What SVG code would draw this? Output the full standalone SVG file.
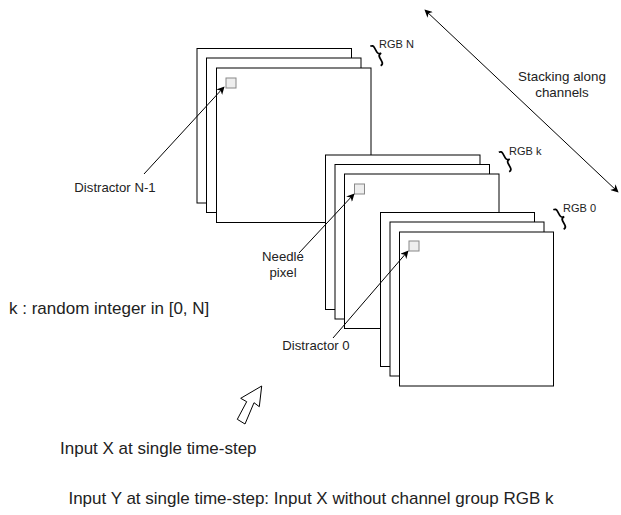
<svg xmlns="http://www.w3.org/2000/svg" width="621" height="515" viewBox="0 0 621 515">
<defs>
<marker id="arr" viewBox="0 0 10 10" refX="9" refY="5" markerWidth="8" markerHeight="8" markerUnits="userSpaceOnUse" orient="auto-start-reverse">
<path d="M0,0 L10,5 L0,10 L3,5 z" fill="#000"/>
</marker>
<path id="brace" d="M0,-11 Q3,-11 3,-8 L3,-3 Q3,0 6.5,0 Q3,0 3,3 L3,8 Q3,11 0,11" fill="none" stroke="#000" stroke-width="1.7"/>
</defs>
<style>
.fr{fill:#fff;stroke:#000;stroke-width:1}
.px{fill:#eee;stroke:#888;stroke-width:1}
.t{font-family:"Liberation Sans",Arial,sans-serif;fill:#222}
.conn{stroke:#000;stroke-width:1;fill:none}
</style>
<rect width="621" height="515" fill="#fff"/>

<g id="stackN">
<rect class="fr" x="197" y="48.5" width="154.5" height="154.5"/>
<rect class="fr" x="206.5" y="58" width="154.5" height="154.5"/>
<rect class="fr" x="216.5" y="68" width="154.5" height="154.5"/>
<rect class="px" x="226" y="78" width="10" height="10"/>
<use href="#brace" transform="translate(375.5,56) rotate(-28)"/>
<text class="t" x="379" y="47.5" font-size="11">RGB N</text>
</g>

<g id="stackK">
<rect class="fr" x="325.5" y="155" width="154.5" height="154.5"/>
<rect class="fr" x="335" y="164.5" width="154.5" height="154.5"/>
<rect class="fr" x="344.5" y="174" width="154.5" height="154.5"/>
<rect class="px" x="354.5" y="184" width="10" height="10"/>
<use href="#brace" transform="translate(504,162) rotate(-28)"/>
<text class="t" x="509" y="155" font-size="11">RGB k</text>
</g>

<g id="stack0">
<rect class="fr" x="380.5" y="212.5" width="154" height="154"/>
<rect class="fr" x="390" y="222" width="154" height="154"/>
<rect class="fr" x="399.5" y="232" width="154" height="154"/>
<rect class="px" x="409" y="241" width="10" height="10"/>
<use href="#brace" transform="translate(558.5,219.5) rotate(-28)"/>
<text class="t" x="563" y="212" font-size="11">RGB 0</text>
</g>

<g id="connectors">
<line class="conn" x1="144" y1="174" x2="224" y2="87" marker-end="url(#arr)"/>
<line class="conn" x1="299" y1="253" x2="354" y2="194" marker-end="url(#arr)"/>
<line class="conn" x1="333" y1="338" x2="408" y2="251" marker-end="url(#arr)"/>
<line class="conn" x1="425" y1="10" x2="618" y2="192" marker-start="url(#arr)" marker-end="url(#arr)"/>
</g>

<g id="labels">
<text class="t" x="115" y="192" font-size="13.2" text-anchor="middle">Distractor N-1</text>
<text class="t" x="283" y="261" font-size="13.2" text-anchor="middle">Needle</text>
<text class="t" x="283" y="277" font-size="13.2" text-anchor="middle">pixel</text>
<text class="t" x="316" y="350" font-size="13.2" text-anchor="middle">Distractor 0</text>
<text class="t" x="562" y="81" font-size="13.4" text-anchor="middle">Stacking along</text>
<text class="t" x="562" y="96.5" font-size="13.4" text-anchor="middle">channels</text>
<text class="t" x="9" y="314" font-size="17">k : random integer in [0, N]</text>
<text class="t" x="60" y="454" font-size="17">Input X at single time-step</text>
<text class="t" x="311" y="504" font-size="17" text-anchor="middle">Input Y at single time-step: Input X without channel group RGB k</text>
</g>

<g id="hollowArrow">
<path d="M237.3,419.3 L246.7,401.7 L240.7,398.3 L261.7,386 L259.3,406.7 L254,402.7 L245,424 Z" fill="#fff" stroke="#000" stroke-width="1"/>
</g>
</svg>
